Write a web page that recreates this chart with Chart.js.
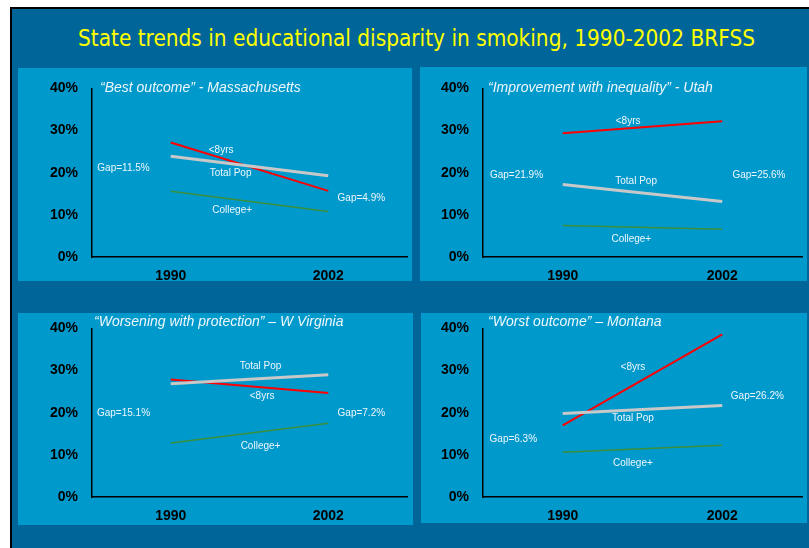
<!DOCTYPE html>
<html>
<head>
<meta charset="utf-8">
<script src="https://cdn.jsdelivr.net/npm/chart.js@4.4.1/dist/chart.umd.min.js"></script>
<style>
  html, body { margin: 0; padding: 0; width: 809px; height: 548px; overflow: hidden; background: #fff; }
  #slide { position: absolute; left: 10px; top: 7px; width: 799px; height: 541px; box-sizing: border-box;
           background: #006699; border-left: 2px solid #000; border-top: 2px solid #000; }
  #title { position: absolute; left: 12px; top: 27px; width: 809px; text-align: center; color: #ffff00;
           font-family: "DejaVu Sans Condensed", "DejaVu Sans", sans-serif; font-stretch: condensed;
           font-size: 22.4px; line-height: 22px; white-space: nowrap; }
  .panel { position: absolute; background: #0099cc; }
  .panel canvas { display: block; }
</style>
</head>
<body>
<div id="slide"></div>
<div id="title">State trends in educational disparity in smoking, 1990-2002 BRFSS</div>
<div class="panel" style="left:18px;top:68px;width:394px;height:213px"><canvas id="ma" width="394" height="213"></canvas></div>
<div class="panel" style="left:420px;top:67px;width:387px;height:214px"><canvas id="ut" width="387" height="214"></canvas></div>
<div class="panel" style="left:18px;top:313px;width:395px;height:212px"><canvas id="wv" width="395" height="212"></canvas></div>
<div class="panel" style="left:421px;top:313px;width:386px;height:210px"><canvas id="mt" width="386" height="210"></canvas></div>

<script>
// years on the x axis, y ticks in percent
const years = ['1990', '2002'];
const yTicks = [0, 10, 20, 30, 40];

// Massachusetts
const maLow = [27.2, 15.7];
const maTotal = [23.9, 19.3];
const maCollege = [15.6, 10.8];
const maGaps = ['Gap=11.5%', 'Gap=4.9%'];

// Utah
const utLow = [29.4, 32.2];
const utTotal = [17.2, 13.2];
const utCollege = [7.5, 6.6];
const utGaps = ['Gap=21.9%', 'Gap=25.6%'];

// W Virginia
const wvLow = [27.9, 24.7];
const wvTotal = [26.9, 29.0];
const wvCollege = [12.8, 17.5];
const wvGaps = ['Gap=15.1%', 'Gap=7.2%'];

// Montana
const mtLow = [17.0, 38.6];
const mtTotal = [19.8, 21.7];
const mtCollege = [10.6, 12.3];
const mtGaps = ['Gap=6.3%', 'Gap=26.2%'];

const seriesNames = ['<8yrs', 'Total Pop', 'College+'];

const tickFont = { family: '"Liberation Sans", Arial, sans-serif', size: 14, weight: 'bold' };

// draws the panel heading and the in-chart labels (placed in data units)
const notesPlugin = {
    id: 'notes',
    afterDatasetsDraw(chart, args, opts) {
        const { ctx, chartArea } = chart;
        const x = chart.scales.x;
        const y = chart.scales.y;
        ctx.save();
        ctx.fillStyle = '#eef7fb';
        ctx.textAlign = 'center';
        ctx.textBaseline = 'middle';
        ctx.font = '10px "Liberation Sans", Arial, sans-serif';
        opts.notes.forEach(n => {
            ctx.fillText(n.text, x.getPixelForValue(n.at[0]), y.getPixelForValue(n.at[1]));
        });
        ctx.textAlign = 'left';
        ctx.font = 'italic 14px "Liberation Sans", Arial, sans-serif';
        ctx.fillText(opts.heading, chartArea.left + opts.headAt[0], chartArea.top + opts.headAt[1]);
        ctx.restore();
    }
};

function makePanel(p) {
    const ctx = document.getElementById(p.id).getContext('2d');
    return new Chart(ctx, {
        type: 'line',
        data: {
            labels: years,
            datasets: [
                { label: seriesNames[0], data: p.low, borderColor: '#ff0000', borderWidth: 2, order: 1 },
                { label: seriesNames[1], data: p.total, borderColor: '#c8c8c8', borderWidth: 3, order: 0 },
                { label: seriesNames[2], data: p.college, borderColor: '#3a8f3a', borderWidth: 1.5, order: 2 }
            ]
        },
        options: {
            responsive: false,
            animation: false,
            events: [],
            elements: { point: { radius: 0 }, line: { tension: 0 } },
            layout: { padding: { left: 0, top: p.pad[0], right: p.pad[1], bottom: 0 } },
            plugins: {
                legend: { display: false },
                tooltip: { enabled: false },
                notes: { heading: p.heading, headAt: p.headAt, notes: p.notes }
            },
            scales: {
                x: {
                    type: 'category',
                    offset: true,
                    grid: { display: false, drawTicks: false },
                    border: { color: '#000', width: 1.5 },
                    ticks: { color: '#000', font: tickFont, padding: 11 },
                    afterFit(s) {
                        s.height = p.xh;
                        s.paddingLeft = 0;
                        s.paddingRight = 0;
                    }
                },
                y: {
                    min: yTicks[0],
                    max: yTicks[yTicks.length - 1],
                    grid: { display: false, drawTicks: false },
                    border: { color: '#000', width: 1.5 },
                    ticks: {
                        stepSize: yTicks[1] - yTicks[0],
                        color: '#000',
                        font: tickFont,
                        padding: 14,
                        callback: v => v + '%'
                    },
                    afterFit(s) {
                        s.width = p.yw;
                        s.paddingTop = 0;
                        s.paddingBottom = 0;
                    }
                }
            }
        },
        plugins: [notesPlugin]
    });
}

makePanel({
    id: 'ma', low: maLow, total: maTotal, college: maCollege,
    pad: [20.5, 5], yw: 74, xh: 24,
    heading: '\u201cBest outcome\u201d - Massachusetts', headAt: [8, -0.5],
    notes: [
        { text: seriesNames[0], at: [0.32, 25.3] },
        { text: seriesNames[1], at: [0.38, 19.9] },
        { text: seriesNames[2], at: [0.39, 11.1] },
        { text: maGaps[0], at: [-0.30, 21.1] },
        { text: maGaps[1], at: [1.21, 14.0] }
    ]
});

makePanel({
    id: 'ut', low: utLow, total: utTotal, college: utCollege,
    pad: [21.5, 5], yw: 63, xh: 24,
    heading: '\u201cImprovement with inequality\u201d - Utah', headAt: [5, -0.5],
    notes: [
        { text: seriesNames[0], at: [0.41, 32.2] },
        { text: seriesNames[1], at: [0.46, 18.0] },
        { text: seriesNames[2], at: [0.43, 4.3] },
        { text: utGaps[0], at: [-0.29, 19.4] },
        { text: utGaps[1], at: [1.23, 19.4] }
    ]
});

makePanel({
    id: 'wv', low: wvLow, total: wvTotal, college: wvCollege,
    pad: [15.5, 6], yw: 74, xh: 28,
    heading: '\u201cWorsening with protection\u201d \u2013 W Virginia', headAt: [2, -6.5],
    notes: [
        { text: seriesNames[1], at: [0.57, 31.0] },
        { text: seriesNames[0], at: [0.58, 24.0] },
        { text: seriesNames[2], at: [0.57, 12.1] },
        { text: wvGaps[0], at: [-0.30, 19.8] },
        { text: wvGaps[1], at: [1.21, 19.8] }
    ]
});

makePanel({
    id: 'mt', low: mtLow, total: mtTotal, college: mtCollege,
    pad: [15.5, 5], yw: 62, xh: 26,
    heading: '\u201cWorst outcome\u201d \u2013 Montana', headAt: [5, -6.5],
    notes: [
        { text: seriesNames[0], at: [0.44, 30.7] },
        { text: seriesNames[1], at: [0.44, 18.6] },
        { text: seriesNames[2], at: [0.44, 7.9] },
        { text: mtGaps[0], at: [-0.31, 13.6] },
        { text: mtGaps[1], at: [1.22, 23.8] }
    ]
});
</script>
</body>
</html>
